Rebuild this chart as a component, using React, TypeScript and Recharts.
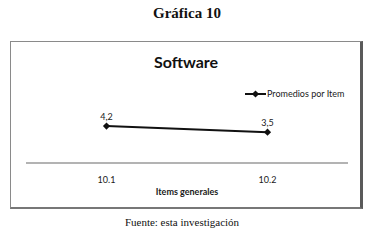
import { LineChart, Line, XAxis, YAxis, Legend, LabelList } from 'recharts'

const items = ['10.1', '10.2']
const promedios = [4.2, 3.5]
const seriesName = 'Promedios por Item'

const data = items.map((item, i) => ({ item, value: promedios[i] }))

const C = {
  line: '#111111',
  axis: '#9a9a9a',
  text: '#1a1a1a',
  border: '#8a8a8a',
}

const sans = 'Lato, "Open Sans", sans-serif'
const serif = '"Liberation Serif", "DejaVu Serif", serif'

const Diamond = (props: any) => {
  const { cx, cy } = props
  if (cx == null || cy == null) return null
  const r = 3.6
  return (
    <polygon
      points={`${cx},${cy - r} ${cx + r},${cy} ${cx},${cy + r} ${cx - r},${cy}`}
      fill={C.line}
    />
  )
}

const LegendContent = () => (
  <div style={{ display: 'flex', alignItems: 'center', fontFamily: sans, fontSize: 9, color: C.text, whiteSpace: 'nowrap' }}>
    <svg width={21} height={8} style={{ marginRight: 1 }}>
      <line x1={0} y1={4} x2={21} y2={4} stroke={C.line} strokeWidth={2} />
      <polygon points="10.5,0.4 14.1,4 10.5,7.6 6.9,4" fill={C.line} />
    </svg>
    <span>{seriesName}</span>
  </div>
)

export default function App() {
  return (
    <div style={{ position: 'absolute', left: 0, top: 0, width: 368, height: 244, background: '#fff' }}>
      <div style={{
        position: 'absolute', left: 0, width: 374, top: 5, textAlign: 'center',
        fontFamily: serif, fontWeight: 700, fontSize: 15, color: '#111',
      }}>
        Gráfica 10
      </div>

      <div style={{
        position: 'absolute', left: 10, top: 41, width: 349, height: 165,
        borderLeft: `1px solid ${C.border}`, borderTop: `1px solid ${C.border}`,
        borderRight: '3px solid #5a5a5a', borderBottom: '2px solid #777',
      }}>
        <div style={{
          position: 'absolute', left: 0, width: 350, top: 10, textAlign: 'center',
          fontFamily: sans, fontWeight: 700, fontSize: 16, color: '#111',
        }}>
          Software
        </div>

        <LineChart
          width={350}
          height={166}
          data={data}
          margin={{ top: 77, right: 13, left: 15, bottom: 0 }}
          style={{ position: 'absolute', left: 0, top: 0 }}
        >
          <XAxis
            dataKey="item"
            scale="band"
            stroke={C.axis}
            strokeWidth={1.5}
            tickLine={false}
            tickMargin={8}
            height={45}
            tick={{ fontFamily: sans, fontSize: 9, fill: C.text }}
            label={{
              value: 'Items generales',
              position: 'insideBottom',
              offset: 13,
              style: { fontFamily: sans, fontSize: 9, fontWeight: 700, fill: C.text },
            }}
          />
          <YAxis hide domain={[0, 5]} />
          <Legend
            layout="horizontal"
            verticalAlign="middle"
            align="center"
            content={<LegendContent />}
            wrapperStyle={{ left: 234, top: 46, width: 'auto' }}
          />
          <Line
            type="linear"
            dataKey="value"
            name={seriesName}
            stroke={C.line}
            strokeWidth={2}
            dot={<Diamond />}
            activeDot={false}
            isAnimationActive={false}
          >
            <LabelList
              dataKey="value"
              position="top"
              offset={6}
              formatter={(v: any) => String(v).replace('.', ',')}
              style={{ fontFamily: sans, fontSize: 9, fill: C.text }}
            />
          </Line>
        </LineChart>
      </div>

      <div style={{
        position: 'absolute', left: 0, width: 364, top: 216, textAlign: 'center',
        fontFamily: serif, fontSize: 11, color: '#111',
      }}>
        Fuente: esta investigación
      </div>
    </div>
  )
}
